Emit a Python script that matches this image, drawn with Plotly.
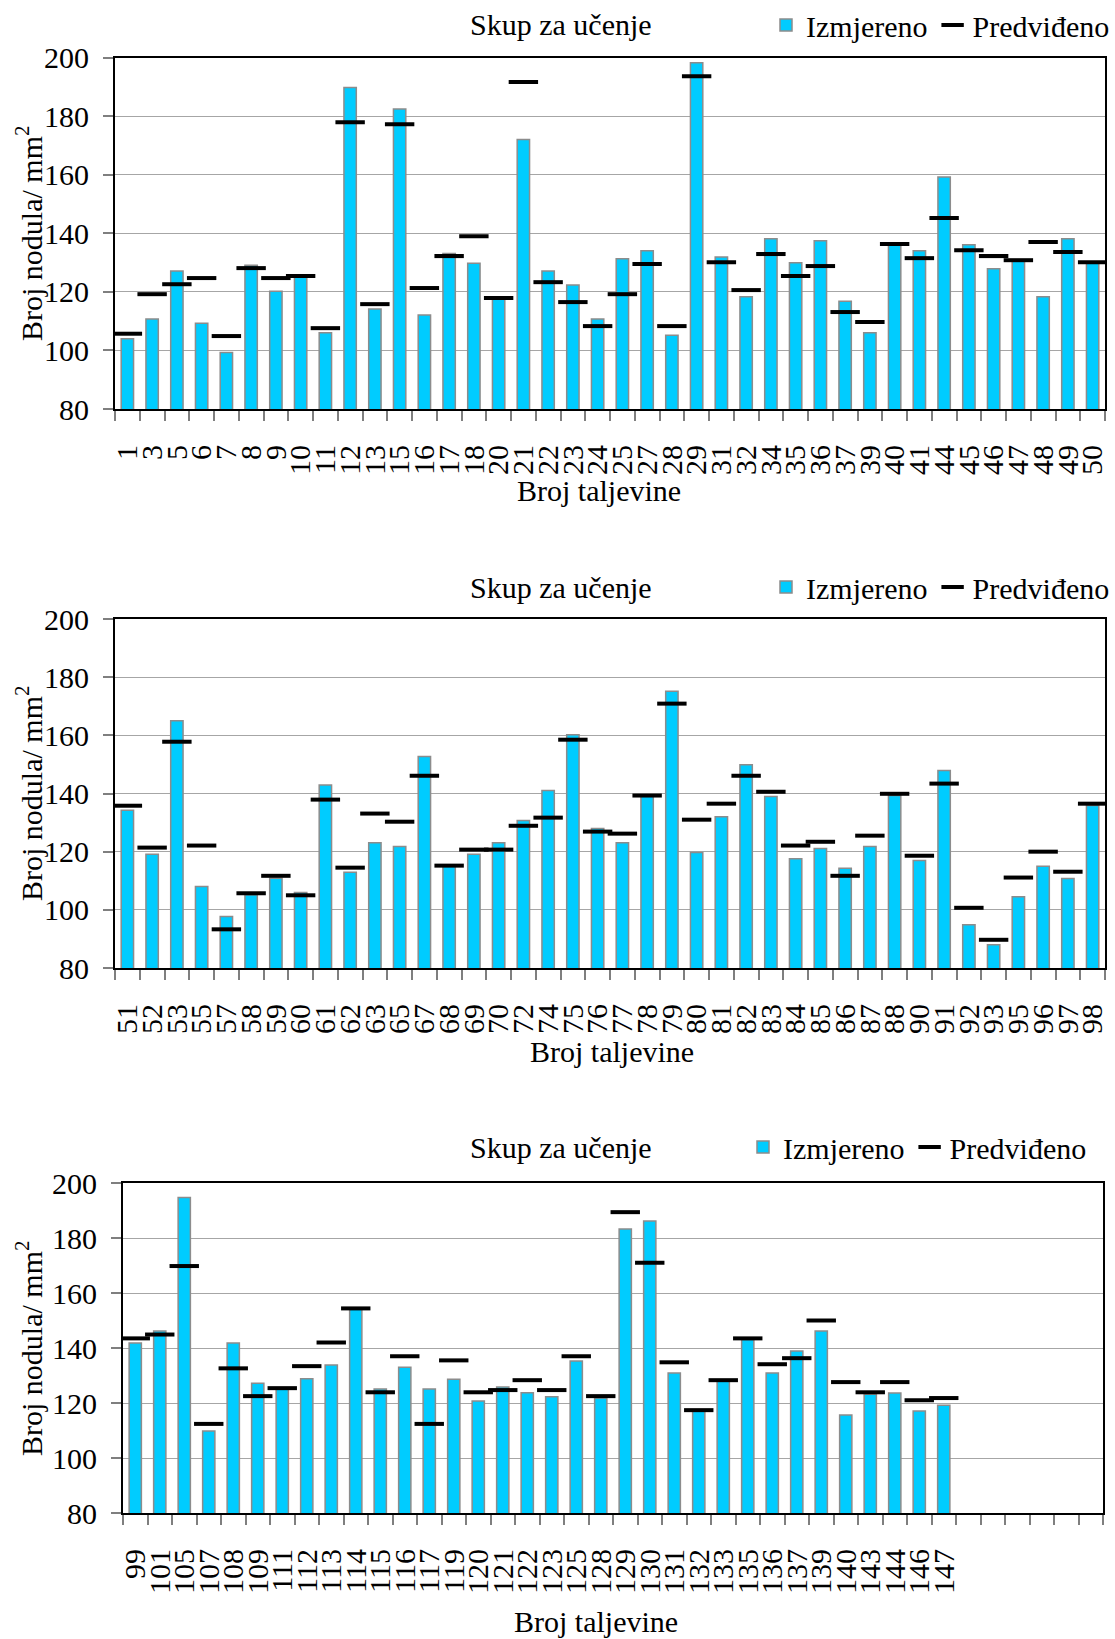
import plotly.graph_objects as go

W, H = 1115, 1639
FONT = "Liberation Serif, Times New Roman, serif"

# ---------------- data ----------------
cats1 = ["1","3","5","6","7","8","9","10","11","12","13","15","16","17","18","20","21","22","23","24",
         "25","27","28","29","31","32","34","35","36","37","39","40","41","44","45","46","47","48","49","50"]
meas1 = [104,110.7,127.1,109.3,99.3,129.1,120.2,125.5,106,189.8,114.1,182.4,112.1,133.1,129.8,117.5,172,127.1,122.3,110.7,
         131.3,134,105.2,198.2,131.9,118.3,138.1,129.9,137.4,116.8,106,136.2,134,159.2,136.1,127.9,130.4,118.3,138.1,130]
pred1 = [105.7,119.2,122.6,124.7,104.9,128.1,124.7,125.4,107.6,177.9,115.8,177.2,121.3,132.2,139,117.9,191.6,123.3,116.5,108.3,
         119.2,129.5,108.3,193.6,130.1,120.6,132.9,125.4,128.8,113.1,109.7,136.3,131.5,145.2,134.2,132.2,130.8,137,133.6,130.1]

cats2 = ["51","52","53","55","57","58","59","60","61","62","63","65","67","68","69","70","72","74","75","76",
         "77","78","79","80","81","82","83","84","85","86","87","88","90","91","92","93","95","96","97","98"]
meas2 = [134.2,119.1,165,108,97.7,105.2,110.9,106,142.9,112.9,123.1,121.8,152.7,115.2,119.1,123.1,130.7,141,160.2,128,
         123.1,139.3,175.2,119.7,132,149.9,139,117.6,121.1,114.3,121.8,139.3,117,147.9,94.9,88,104.5,115,110.8,135.9]
pred2 = [135.8,121.4,157.8,122.1,93.3,105.7,111.7,105,137.9,114.5,133.1,130.3,146.1,115.2,120.7,120.7,128.9,131.7,158.5,126.9,
         126.2,139.3,170.9,131,136.5,146.1,140.6,122.1,123.4,111.7,125.5,139.9,118.6,143.4,100.7,89.7,111.1,120,113.1,136.5]

cats3 = ["99","101","105","107","108","109","111","112","113","114","115","116","117","119","120","121","122","123","125","128",
         "129","130","131","132","133","135","136","137","139","140","143","144","146","147"]
meas3 = [141.8,146.2,194.7,109.8,141.8,127.2,125.1,128.8,133.8,154.4,125.1,133,125.1,128.6,120.7,125.8,123.7,122.3,135.3,121.8,
         183.3,186.2,130.9,117.2,128,143.1,130.9,138.9,146.2,115.6,123.2,123.6,117.1,119.2]
pred3 = [143.5,144.9,169.8,112.4,132.6,122.5,125.4,133.4,142,154.4,123.9,137,112.4,135.5,123.9,124.7,128.3,124.7,137,122.5,
         189.4,171,134.8,117.4,128.3,143.5,134.1,136.3,150,127.6,123.9,127.6,121,121.8]

slots_per_panel = 40   # every panel has room for 40 melts; the last one leaves 6 empty

title_text = "Skup za učenje"
x_title = "Broj taljevine"
y_title = "Broj nodula/ mm<sup>2</sup>"
name_meas = "Izmjereno"
name_pred = "Predviđeno"
y_ticks = [80, 100, 120, 140, 160, 180, 200]

# ---------------- figure ----------------
def px_x(v):
    return v / W

def px_y(v):
    return 1 - v / H

panels = [
    dict(cats=cats1, meas=meas1, pred=pred1,
         x0=115, x1=1105, y0=57.5, y1=409, title_y=25, leg_x=1115, xt=(599, 491), yt=(29, 233)),
    dict(cats=cats2, meas=meas2, pred=pred2,
         x0=115, x1=1105, y0=619, y1=968, title_y=587, leg_x=1115, xt=(612, 1051), yt=(29, 793)),
    dict(cats=cats3, meas=meas3, pred=pred3,
         x0=123, x1=1103, y0=1183, y1=1513, title_y=1147, leg_x=1092, xt=(596, 1621), yt=(29, 1348)),
]

fig = go.Figure()
annotations = []
layout_extra = {}

for i, p in enumerate(panels, start=1):
    sfx = "" if i == 1 else str(i)
    legend_id = "legend" + sfx
    pos = list(range(len(p["cats"])))
    fig.add_trace(go.Bar(
        x=pos, y=p["meas"], name=name_meas,
        customdata=p["cats"], hovertemplate="%{customdata}: %{y}<extra>" + name_meas + "</extra>",
        xaxis="x" + sfx, yaxis="y" + sfx, legend=legend_id,
        width=0.5,
        marker=dict(color="#00CCFF", line=dict(color="#8C8C8C", width=1.5)),
    ))
    fig.add_trace(go.Scatter(
        x=pos, y=p["pred"], name=name_pred, mode="markers",
        customdata=p["cats"], hovertemplate="%{customdata}: %{y}<extra>" + name_pred + "</extra>",
        xaxis="x" + sfx, yaxis="y" + sfx, legend=legend_id,
        marker=dict(symbol="line-ew", size=21, color="black",
                    line=dict(color="black", width=4)),
    ))
    layout_extra["xaxis" + sfx] = dict(
        domain=[px_x(p["x0"]), px_x(p["x1"])],
        anchor="y" + sfx,
        range=[-0.5, slots_per_panel - 0.5],
        tickmode="array", tickvals=pos, ticktext=p["cats"],
        tickangle=-90, ticks="outside", ticklen=10, tickcolor="rgba(0,0,0,0)",
        ticklabelstandoff=12,
        tickfont=dict(family=FONT, size=30, color="black"),
        minor=dict(ticks="outside", ticklen=10, tickcolor="#7F7F7F", tickwidth=1.5,
                   tick0=-0.5, dtick=1, showgrid=False),
        showline=True, linecolor="black", linewidth=2, mirror=True,
        showgrid=False, zeroline=False, fixedrange=True,
    )
    layout_extra["yaxis" + sfx] = dict(
        domain=[px_y(p["y1"]), px_y(p["y0"])],
        anchor="x" + sfx,
        range=[80, 200], tickvals=y_ticks,
        ticks="outside", ticklen=10, tickcolor="#7F7F7F", tickwidth=1.5,
        ticklabelstandoff=8,
        tickfont=dict(family=FONT, size=30, color="black"),
        showline=True, linecolor="black", linewidth=2, mirror=True,
        showgrid=True, gridcolor="#A6A6A6", gridwidth=1,
        zeroline=False, fixedrange=True,
    )
    layout_extra[legend_id] = dict(
        orientation="h", x=px_x(p["leg_x"]), xanchor="right",
        y=px_y(p["title_y"]), yanchor="middle",
        font=dict(family=FONT, size=30, color="black"),
        bgcolor="rgba(0,0,0,0)", itemwidth=30, tracegroupgap=0,
    )
    annotations.append(dict(
        text=title_text, x=px_x(561), y=px_y(p["title_y"]),
        xref="paper", yref="paper", xanchor="center", yanchor="middle",
        showarrow=False, font=dict(family=FONT, size=30, color="black")))
    annotations.append(dict(
        text=x_title, x=px_x(p["xt"][0]), y=px_y(p["xt"][1]),
        xref="paper", yref="paper", xanchor="center", yanchor="middle",
        showarrow=False, font=dict(family=FONT, size=30, color="black")))
    annotations.append(dict(
        text=y_title, x=px_x(p["yt"][0]), y=px_y(p["yt"][1]),
        xref="paper", yref="paper", xanchor="center", yanchor="middle",
        textangle=-90,
        showarrow=False, font=dict(family=FONT, size=30, color="black")))

fig.update_layout(
    width=W, height=H,
    margin=dict(l=0, r=0, t=0, b=0, autoexpand=False),
    paper_bgcolor="white", plot_bgcolor="white",
    font=dict(family=FONT, size=30, color="black"),
    barmode="overlay",
    annotations=annotations,
    **layout_extra,
)

# remove the default page margin so the figure fills the window exactly
fig.write_html(
    "out.html",
    config={"displayModeBar": False},
    post_script="document.body.style.margin='0';document.body.style.overflow='hidden';",
)
